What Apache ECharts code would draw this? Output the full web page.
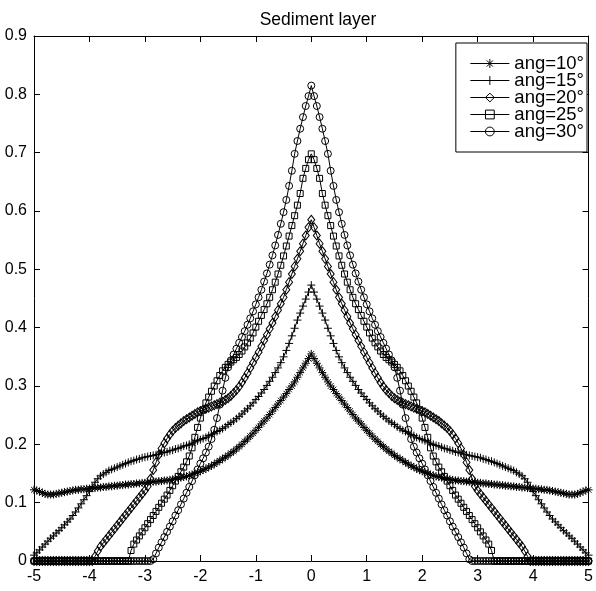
<!DOCTYPE html>
<html>
<head>
<meta charset="utf-8">
<script src="https://cdn.jsdelivr.net/npm/echarts@6/dist/echarts.min.js"></script>
<style>html,body{margin:0;padding:0;background:#fff}#c{width:596px;height:591px}</style>
</head>
<body>
<div id="c"></div>
<script>
const titleText = 'Sediment layer';
const seriesNames = ['ang=10°', 'ang=15°', 'ang=20°', 'ang=25°', 'ang=30°'];
const xTicks = [-5, -4, -3, -2, -1, 0, 1, 2, 3, 4, 5];
const yTicks = [0, 0.1, 0.2, 0.3, 0.4, 0.5, 0.6, 0.7, 0.8, 0.9];

const xs = [
-5,-4.95,-4.9,-4.85,-4.8,-4.75,-4.7,-4.65,-4.6,-4.55,
-4.5,-4.45,-4.4,-4.35,-4.3,-4.25,-4.2,-4.15,-4.1,-4.05,
-4,-3.95,-3.9,-3.85,-3.8,-3.75,-3.7,-3.65,-3.6,-3.55,
-3.5,-3.45,-3.4,-3.35,-3.3,-3.25,-3.2,-3.15,-3.1,-3.05,
-3,-2.95,-2.9,-2.85,-2.8,-2.75,-2.7,-2.65,-2.6,-2.55,
-2.5,-2.45,-2.4,-2.35,-2.3,-2.25,-2.2,-2.15,-2.1,-2.05,
-2,-1.95,-1.9,-1.85,-1.8,-1.75,-1.7,-1.65,-1.6,-1.55,
-1.5,-1.45,-1.4,-1.35,-1.3,-1.25,-1.2,-1.15,-1.1,-1.05,
-1,-0.95,-0.9,-0.85,-0.8,-0.75,-0.7,-0.65,-0.6,-0.55,
-0.5,-0.45,-0.4,-0.35,-0.3,-0.25,-0.2,-0.15,-0.1,-0.05,
0,
0.05,0.1,0.15,0.2,0.25,0.3,0.35,0.4,0.45,0.5,
0.55,0.6,0.65,0.7,0.75,0.8,0.85,0.9,0.95,1,
1.05,1.1,1.15,1.2,1.25,1.3,1.35,1.4,1.45,1.5,
1.55,1.6,1.65,1.7,1.75,1.8,1.85,1.9,1.95,2,
2.05,2.1,2.15,2.2,2.25,2.3,2.35,2.4,2.45,2.5,
2.55,2.6,2.65,2.7,2.75,2.8,2.85,2.9,2.95,3,
3.05,3.1,3.15,3.2,3.25,3.3,3.35,3.4,3.45,3.5,
3.55,3.6,3.65,3.7,3.75,3.8,3.85,3.9,3.95,4,
4.05,4.1,4.15,4.2,4.25,4.3,4.35,4.4,4.45,4.5,
4.55,4.6,4.65,4.7,4.75,4.8,4.85,4.9,4.95,5
];

const ang10 = [
0.122,0.121,0.119,0.117,0.115,0.114,0.114,0.114,0.115,0.116,
0.117,0.118,0.119,0.120,0.121,0.122,0.122,0.123,0.123,0.124,
0.124,0.125,0.125,0.126,0.126,0.127,0.127,0.128,0.128,0.129,
0.129,0.130,0.130,0.131,0.131,0.132,0.132,0.133,0.133,0.134,
0.134,0.135,0.135,0.136,0.136,0.137,0.137,0.138,0.138,0.139,
0.140,0.141,0.142,0.143,0.144,0.145,0.147,0.148,0.150,0.152,
0.154,0.156,0.158,0.161,0.163,0.166,0.169,0.172,0.175,0.178,
0.181,0.185,0.188,0.192,0.196,0.200,0.205,0.209,0.214,0.219,
0.224,0.229,0.235,0.240,0.245,0.251,0.257,0.263,0.269,0.275,
0.281,0.287,0.294,0.300,0.307,0.315,0.323,0.331,0.339,0.347,
0.355,
0.347,0.339,0.331,0.323,0.315,0.307,0.300,0.294,0.287,0.281,
0.275,0.269,0.263,0.257,0.251,0.245,0.240,0.235,0.229,0.224,
0.219,0.214,0.209,0.205,0.200,0.196,0.192,0.188,0.185,0.181,
0.178,0.175,0.172,0.169,0.166,0.163,0.161,0.158,0.156,0.154,
0.152,0.150,0.148,0.147,0.145,0.144,0.143,0.142,0.141,0.140,
0.139,0.138,0.138,0.137,0.137,0.136,0.136,0.135,0.135,0.134,
0.134,0.133,0.133,0.132,0.132,0.131,0.131,0.130,0.130,0.129,
0.129,0.128,0.128,0.127,0.127,0.126,0.126,0.125,0.125,0.124,
0.124,0.123,0.123,0.122,0.122,0.121,0.120,0.119,0.118,0.117,
0.116,0.115,0.114,0.114,0.114,0.115,0.117,0.119,0.121,0.122
];

const ang15 = [
0.010,0.014,0.019,0.024,0.029,0.034,0.039,0.043,0.048,0.052,
0.057,0.062,0.067,0.072,0.078,0.084,0.091,0.098,0.105,0.112,
0.119,0.127,0.135,0.141,0.146,0.149,0.152,0.155,0.157,0.159,
0.161,0.163,0.165,0.167,0.169,0.171,0.172,0.174,0.175,0.177,
0.178,0.179,0.180,0.181,0.182,0.183,0.185,0.186,0.187,0.189,
0.190,0.192,0.193,0.195,0.197,0.198,0.200,0.202,0.204,0.206,
0.208,0.210,0.212,0.215,0.217,0.219,0.222,0.224,0.227,0.230,
0.234,0.237,0.240,0.244,0.248,0.252,0.257,0.261,0.266,0.271,
0.277,0.282,0.288,0.294,0.301,0.308,0.315,0.323,0.331,0.340,
0.350,0.361,0.373,0.386,0.399,0.413,0.425,0.437,0.449,0.461,
0.473,
0.461,0.449,0.437,0.425,0.413,0.399,0.386,0.373,0.361,0.350,
0.340,0.331,0.323,0.315,0.308,0.301,0.294,0.288,0.282,0.277,
0.271,0.266,0.261,0.257,0.252,0.248,0.244,0.240,0.237,0.234,
0.230,0.227,0.224,0.222,0.219,0.217,0.215,0.212,0.210,0.208,
0.206,0.204,0.202,0.200,0.198,0.197,0.195,0.193,0.192,0.190,
0.189,0.187,0.186,0.185,0.183,0.182,0.181,0.180,0.179,0.178,
0.177,0.175,0.174,0.172,0.171,0.169,0.167,0.165,0.163,0.161,
0.159,0.157,0.155,0.152,0.149,0.146,0.141,0.135,0.127,0.119,
0.112,0.105,0.098,0.091,0.084,0.078,0.072,0.067,0.062,0.057,
0.052,0.048,0.043,0.039,0.034,0.029,0.024,0.019,0.014,0.010
];

const ang20 = [
0,0,0,0,0,0,0,0,0,0,
0,0,0,0,0,0,0,0,0,0,
0,0,0.008,0.017,0.025,0.031,0.037,0.043,0.049,0.055,
0.061,0.067,0.073,0.079,0.085,0.091,0.097,0.103,0.109,0.115,
0.121,0.128,0.141,0.156,0.169,0.182,0.193,0.202,0.210,0.217,
0.223,0.228,0.232,0.236,0.240,0.243,0.246,0.249,0.252,0.255,
0.257,0.259,0.261,0.263,0.265,0.267,0.269,0.271,0.273,0.276,
0.279,0.283,0.288,0.293,0.299,0.306,0.314,0.322,0.331,0.340,
0.349,0.358,0.368,0.378,0.388,0.398,0.408,0.419,0.430,0.441,
0.452,0.465,0.478,0.492,0.505,0.518,0.531,0.544,0.558,0.572,
0.585,
0.572,0.558,0.544,0.531,0.518,0.505,0.492,0.478,0.465,0.452,
0.441,0.430,0.419,0.408,0.398,0.388,0.378,0.368,0.358,0.349,
0.340,0.331,0.322,0.314,0.306,0.299,0.293,0.288,0.283,0.279,
0.276,0.273,0.271,0.269,0.267,0.265,0.263,0.261,0.259,0.257,
0.255,0.252,0.249,0.246,0.243,0.240,0.236,0.232,0.228,0.223,
0.217,0.210,0.202,0.193,0.182,0.169,0.156,0.141,0.128,0.121,
0.115,0.109,0.103,0.097,0.091,0.085,0.079,0.073,0.067,0.061,
0.055,0.049,0.043,0.037,0.031,0.025,0.017,0.008,0,0,
0,0,0,0,0,0,0,0,0,0,
0,0,0,0,0,0,0,0,0,0
];

const ang25 = [
0,0,0,0,0,0,0,0,0,0,
0,0,0,0,0,0,0,0,0,0,
0,0,0,0,0,0,0,0,0,0,
0,0,0,0,0,0.018,0.029,0.036,0.043,0.050,
0.057,0.064,0.071,0.078,0.085,0.092,0.099,0.106,0.113,0.121,
0.129,0.137,0.145,0.153,0.161,0.170,0.180,0.194,0.212,0.229,
0.245,0.259,0.271,0.281,0.291,0.300,0.309,0.318,0.326,0.332,
0.337,0.341,0.345,0.349,0.354,0.360,0.367,0.374,0.382,0.391,
0.401,0.411,0.421,0.431,0.441,0.452,0.465,0.478,0.492,0.507,
0.523,0.540,0.557,0.575,0.592,0.610,0.630,0.656,0.673,0.688,
0.698,
0.688,0.673,0.656,0.630,0.610,0.592,0.575,0.557,0.540,0.523,
0.507,0.492,0.478,0.465,0.452,0.441,0.431,0.421,0.411,0.401,
0.391,0.382,0.374,0.367,0.360,0.354,0.349,0.345,0.341,0.337,
0.332,0.326,0.318,0.309,0.300,0.291,0.281,0.271,0.259,0.245,
0.229,0.212,0.194,0.180,0.170,0.161,0.153,0.145,0.137,0.129,
0.121,0.113,0.106,0.099,0.092,0.085,0.078,0.071,0.064,0.057,
0.050,0.043,0.036,0.029,0.018,0,0,0,0,0,
0,0,0,0,0,0,0,0,0,0,
0,0,0,0,0,0,0,0,0,0,
0,0,0,0,0,0,0,0,0,0
];

const ang30 = [
0,0,0,0,0,0,0,0,0,0,
0,0,0,0,0,0,0,0,0,0,
0,0,0,0,0,0,0,0,0,0,
0,0,0,0,0,0,0,0,0,0,
0,0,0,0.003,0.013,0.023,0.032,0.041,0.050,0.059,
0.068,0.078,0.087,0.097,0.107,0.117,0.127,0.137,0.147,0.157,
0.167,0.176,0.186,0.196,0.209,0.225,0.245,0.268,0.292,0.314,
0.332,0.344,0.354,0.364,0.374,0.384,0.394,0.405,0.416,0.428,
0.440,0.452,0.465,0.479,0.493,0.508,0.524,0.541,0.559,0.578,
0.598,0.619,0.643,0.669,0.698,0.720,0.741,0.761,0.780,0.797,
0.815,
0.797,0.780,0.761,0.741,0.720,0.698,0.669,0.643,0.619,0.598,
0.578,0.559,0.541,0.524,0.508,0.493,0.479,0.465,0.452,0.440,
0.428,0.416,0.405,0.394,0.384,0.374,0.364,0.354,0.344,0.332,
0.314,0.292,0.268,0.245,0.225,0.209,0.196,0.186,0.176,0.167,
0.157,0.147,0.137,0.127,0.117,0.107,0.097,0.087,0.078,0.068,
0.059,0.050,0.041,0.032,0.023,0.013,0.003,0,0,0,
0,0,0,0,0,0,0,0,0,0,
0,0,0,0,0,0,0,0,0,0,
0,0,0,0,0,0,0,0,0,0,
0,0,0,0,0,0,0,0,0,0
];

const allY = [ang10, ang15, ang20, ang25, ang30];
allY.forEach((a, k) => { if (a.length !== xs.length) throw new Error('len mismatch series ' + k + ': ' + a.length + ' vs ' + xs.length); });

const symbols = [
  'path://M5,0L5,10M0,5L10,5M1.5,1.5L8.5,8.5M8.5,1.5L1.5,8.5',
  'path://M5,0L5,10M0,5L10,5',
  'path://M3.5,0L7,4.5L3.5,9L0,4.5Z',
  'path://M0,0L10,0L10,10L0,10Z',
  'path://M5,0A5,5,0,1,1,5,10A5,5,0,1,1,5,0Z'
];
const symbolSizes = [8, 8, [7, 9], 6, 7];

const chart = echarts.init(document.getElementById('c'), null, {renderer: 'canvas'});
const font = 'Liberation Sans, Arial, Helvetica, sans-serif';

const series = allY.map((ys, k) => ({
  name: seriesNames[k],
  type: 'line',
  xAxisIndex: 0,
  yAxisIndex: 0,
  data: xs.map((x, i) => [x, ys[i]]),
  symbol: symbols[k],
  symbolSize: symbolSizes[k],
  showSymbol: true,
  showAllSymbol: true,
  clip: false,
  lineStyle: {color: '#000', width: 1},
  itemStyle: {color: 'rgba(0,0,0,0)', borderColor: '#000', borderWidth: 1},
  emphasis: {disabled: true},
  silent: true,
  animation: false,
  z: 2 + k
}));

const axisCommon = {
  type: 'value',
  axisLine: {show: true, onZero: false, lineStyle: {color: '#000', width: 1}},
  axisTick: {show: true, inside: true, length: 6, lineStyle: {color: '#000', width: 1}},
  splitLine: {show: false}
};

chart.setOption({
  animation: false,
  backgroundColor: '#fff',
  title: {
    text: titleText,
    left: 313,
    textAlign: 'center',
    top: 6,
    textStyle: {fontFamily: font, fontSize: 17.5, fontWeight: 'normal', color: '#000'}
  },
  grid: {left: 34, right: 5, top: 36, bottom: 30, containLabel: false},
  legend: {
    orient: 'vertical',
    right: 9,
    top: 43,
    data: seriesNames,
    itemWidth: 39,
    itemHeight: 11,
    itemGap: -2,
    itemTextGap: 8,
    padding: [11, 3, 11, 14],
    backgroundColor: '#fff',
    borderColor: '#000',
    borderWidth: 1,
    borderRadius: 0,
    selectedMode: false,
    lineStyle: {width: 1},
    itemStyle: {borderWidth: 1},
    textStyle: {fontFamily: font, fontSize: 18.5, color: '#000', lineHeight: 16}
  },
  xAxis: [
    Object.assign({}, axisCommon, {
      position: 'bottom', min: xTicks[0], max: xTicks[xTicks.length - 1], interval: 1,
      axisLabel: {show: true, margin: 8, color: '#000', fontFamily: font, fontSize: 16}
    }),
    Object.assign({}, axisCommon, {
      position: 'top', min: xTicks[0], max: xTicks[xTicks.length - 1], interval: 1,
      axisLabel: {show: false}
    })
  ],
  yAxis: [
    Object.assign({}, axisCommon, {
      position: 'left', min: yTicks[0], max: yTicks[yTicks.length - 1], interval: 0.1,
      axisLabel: {show: true, margin: 7, color: '#000', fontFamily: font, fontSize: 16}
    }),
    Object.assign({}, axisCommon, {
      position: 'right', min: yTicks[0], max: yTicks[yTicks.length - 1], interval: 0.1,
      axisLabel: {show: false}
    })
  ],
  series: series
});
</script>
</body>
</html>
